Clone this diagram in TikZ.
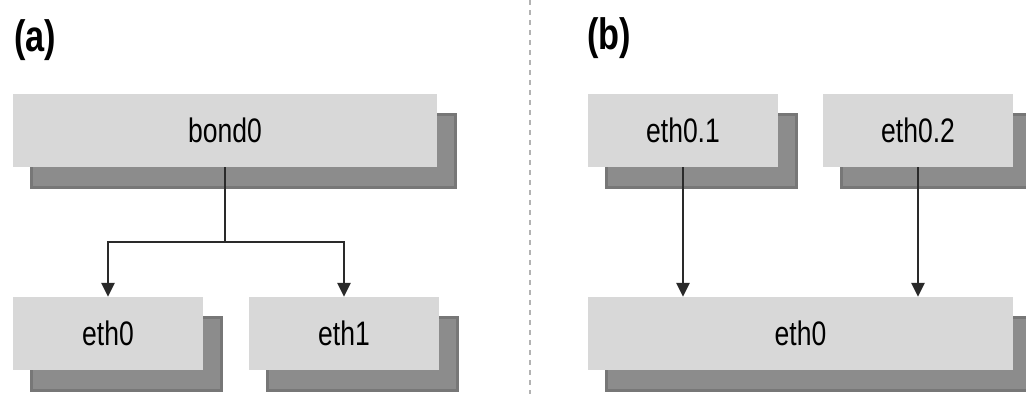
\documentclass[tikz,border=0pt]{standalone}
\usepackage{fontspec}
\setmainfont{Liberation Sans}[FakeStretch=0.78]
\usetikzlibrary{shadows,arrows.meta}
\definecolor{boxfill}{HTML}{D8D8D8}
\definecolor{shadowfill}{HTML}{8C8C8C}
\definecolor{shadowedge}{HTML}{777777}
\definecolor{linecol}{HTML}{2A2A2A}
\tikzset{
  ifbox/.style={rectangle, fill=boxfill, minimum height=73pt, inner sep=0pt,
    font=\fontsize{34}{34}\selectfont,
    drop shadow={shadow xshift=18pt, shadow yshift=-20pt, opacity=1, fill=shadowfill, draw=shadowedge, line width=3pt}},
  panellabel/.style={font=\fontsize{44}{44}\selectfont\bfseries, inner sep=0pt},
  conn/.style={draw=linecol, line width=2.6pt},
  arr/.style={conn, -{Triangle[length=14pt,width=13pt]}}
}
\begin{document}
\begin{tikzpicture}[x=1pt,y=-1pt]
\useasboundingbox (0,0) rectangle (1026,394);
\clip (0,0) rectangle (1026,394);
\draw[gray!60, line width=2pt, dash pattern=on 5pt off 5pt] (530,0) -- (530,394);
\node[panellabel] (la) at (35,40) {(a)};
\node[panellabel] (lb) at (609,38) {(b)};
% (a)
\node[ifbox, minimum width=424pt] (bond) at (225,130.5) {bond0};
\node[ifbox, minimum width=190pt] (ethA) at (108,333.5) {eth0};
\node[ifbox, minimum width=190pt] (ethB) at (344,333.5) {eth1};
\coordinate (j) at (bond.south |- 0,242);
\draw[conn] (bond.south) -- (j);
\draw[arr] (j) -| (ethA.north);
\draw[arr] (j) -| (ethB.north);
% (b)
\node[ifbox, minimum width=190pt] (v1) at (683,130.5) {eth0.1};
\node[ifbox, minimum width=190pt] (v2) at (918,130.5) {eth0.2};
\node[ifbox, minimum width=425pt] (phys) at (800.5,333.5) {eth0};
\draw[arr] (v1.south) -- (v1.south |- phys.north);
\draw[arr] (v2.south) -- (v2.south |- phys.north);
\end{tikzpicture}
\end{document}
